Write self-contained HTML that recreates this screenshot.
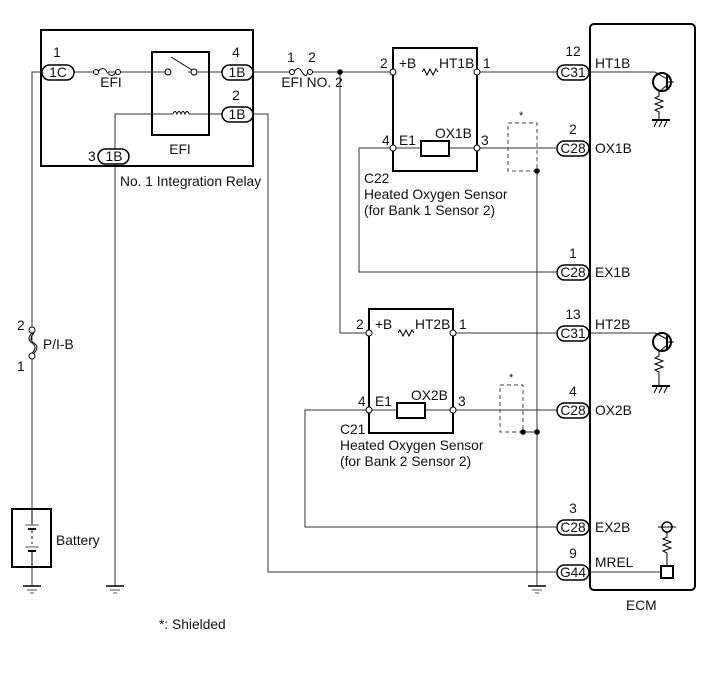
<!DOCTYPE html>
<html><head><meta charset="utf-8"><style>
body{margin:0;background:#fff}
svg{display:block;font-family:"Liberation Sans",Arial,sans-serif}
text{font-size:13.8px;fill:#111}
</style></head><body>
<svg width="713" height="681" viewBox="0 0 713 681" xmlns="http://www.w3.org/2000/svg">
<defs>
<g id="gnd"><line x1="-9" y1="0" x2="9" y2="0" stroke="#000" stroke-width="1.5"/><line x1="-5" y1="4" x2="5" y2="4" stroke="#555" stroke-width="1"/><line x1="-2" y1="7" x2="2" y2="7" stroke="#555" stroke-width="1"/></g>
</defs>
<g fill="none" stroke="#333" stroke-width="1">
<path d="M41 72 H32 V340 M32 356 V586"/>
<path d="M253 114 H268 V572 H556"/>
<path d="M152 114 H115 V586"/>
<path d="M74 72 H94 M108 72 H168 M188 72 H222"/>
<path d="M152 114 H173 M189 114 H222"/>
<path d="M253 72 H290 M312 72 H393"/>
<path d="M340 72 V333 H369"/>
<path d="M477 72 H556"/>
<path d="M393 148 H359 V272 H556"/>
<path d="M393 148 H421 M449 148 H556"/>
<path d="M453 333 H556"/>
<path d="M369 410 H305 V527 H556"/>
<path d="M369 410 H397 M425 410 H556"/>
<path d="M537 171 V586"/>
<path d="M523 432 H537"/>
<path d="M589 72 H655 M589 333 H655"/>
<path d="M589 572 H661"/>
</g>
<rect x="41" y="30" width="212" height="136" fill="none" stroke="#000" stroke-width="2"/>
<rect x="152" y="52" width="57" height="83" fill="none" stroke="#000" stroke-width="2"/>
<circle cx="168" cy="72" r="3" fill="#fff" stroke="#000"/>
<circle cx="194" cy="72" r="3" fill="#fff" stroke="#000"/>
<line x1="171" y1="57" x2="192" y2="70" stroke="#000"/>
<path d="M173 114 q2 -5 4 0 q2 -5 4 0 q2 -5 4 0 q2 -5 4 0" fill="none" stroke="#000"/>
<circle cx="96" cy="72" r="2.5" fill="#fff" stroke="#000"/>
<circle cx="118" cy="72" r="2.5" fill="#fff" stroke="#000"/>
<path d="M98 72 q5 -7 9 0 q5 7 9 0" fill="none" stroke="#000"/>
<circle cx="292" cy="72" r="2.5" fill="#fff" stroke="#000"/>
<circle cx="310" cy="72" r="2.5" fill="#fff" stroke="#000"/>
<path d="M294 72 q4 -7 8 0 q4 7 6 0" fill="none" stroke="#000"/>
<circle cx="340" cy="72" r="2.8" fill="#000"/>
<circle cx="32" cy="330" r="3" fill="#fff" stroke="#000"/>
<circle cx="32" cy="356" r="3" fill="#fff" stroke="#000"/>
<path d="M32 333 q-6 6 0 10 q6 4 0 10 M34 333 q-6 6 0 10 q6 4 0 10" fill="none" stroke="#000"/>
<rect x="12" y="509" width="39" height="58" fill="#fff" stroke="#000" stroke-width="2"/>
<g stroke="#000"><line x1="32" y1="509" x2="32" y2="525"/><line x1="25" y1="525" x2="39" y2="525" stroke="#555"/><line x1="28" y1="529" x2="36" y2="529" stroke-width="2"/><line x1="32" y1="530" x2="32" y2="544" stroke-dasharray="3 3"/><line x1="25" y1="547" x2="39" y2="547" stroke="#555"/><line x1="28" y1="551" x2="36" y2="551" stroke-width="2"/><line x1="32" y1="551" x2="32" y2="567"/></g>
<use href="#gnd" x="32" y="586"/><use href="#gnd" x="115" y="586"/><use href="#gnd" x="537" y="586"/>
<rect x="393" y="48" width="84" height="123" fill="none" stroke="#000" stroke-width="2"/>
<rect x="369" y="309" width="84" height="124" fill="none" stroke="#000" stroke-width="2"/>
<rect x="421" y="141" width="28" height="15" fill="#fff" stroke="#000" stroke-width="2"/>
<rect x="397" y="403" width="28" height="15" fill="#fff" stroke="#000" stroke-width="2"/>
<path d="M422 72 l2 -3 l3 6 l3 -6 l3 6 l3 -6 l2 3" fill="none" stroke="#000"/>
<path d="M398 333 l2 -3 l3 6 l3 -6 l3 6 l3 -6 l2 3" fill="none" stroke="#000"/>
<g fill="#fff" stroke="#000"><circle cx="393" cy="72" r="3"/><circle cx="477" cy="72" r="3"/><circle cx="393" cy="148" r="3"/><circle cx="477" cy="148" r="3"/><circle cx="369" cy="333" r="3"/><circle cx="453" cy="333" r="3"/><circle cx="369" cy="410" r="3"/><circle cx="453" cy="410" r="3"/></g>
<rect x="508" y="123" width="29" height="48" fill="none" stroke="#444" stroke-dasharray="4 3"/>
<rect x="500" y="385" width="23" height="47" fill="none" stroke="#444" stroke-dasharray="4 3"/>
<circle cx="537" cy="171" r="2.8"/><circle cx="523" cy="432" r="2.8"/><circle cx="537" cy="432" r="2.8"/>
<rect x="590" y="24" width="105" height="566" rx="4" fill="none" stroke="#000" stroke-width="2"/>
<g fill="none" stroke="#000">
<circle cx="662" cy="82" r="9" stroke-width="2"/><line x1="667" y1="75" x2="667" y2="89" stroke-width="2"/><line x1="667" y1="82" x2="674" y2="82"/><path d="M655 72 L667 79 M667 85 L659 92 V96 l-4 2 l8 3 l-8 3 l8 3 l-8 3 l4 2 V120"/><line x1="652" y1="120" x2="670" y2="120" stroke-width="2"/><path d="M654 127 l3 -6 M659 127 l3 -6 M664 127 l3 -6"/>
<circle cx="662" cy="342" r="9" stroke-width="2"/><line x1="667" y1="335" x2="667" y2="349" stroke-width="2"/><line x1="667" y1="342" x2="674" y2="342"/><path d="M655 333 L667 339 M667 345 L659 352 V356 l-4 2 l8 3 l-8 3 l8 3 l-8 3 l4 2 V386"/><line x1="652" y1="386" x2="670" y2="386" stroke-width="2"/><path d="M654 393 l3 -6 M659 393 l3 -6 M664 393 l3 -6"/>
<circle cx="667" cy="527" r="5" stroke-width="1.5"/><line x1="658" y1="527" x2="676" y2="527"/><path d="M667 532 V537 l-4 2 l8 3 l-8 3 l8 3 l-8 3 l4 2 V566"/><rect x="661" y="566" width="12" height="12" stroke-width="2"/>
</g>
<g fill="#fff" stroke="#000" stroke-width="1.5">
<rect x="42" y="65" width="32" height="15" rx="7.5"/>
<rect x="222" y="65" width="31" height="15" rx="7.5"/>
<rect x="222" y="107" width="31" height="15" rx="7.5"/>
<rect x="98" y="149" width="31" height="15" rx="7.5"/>
<rect x="557" y="65" width="32" height="15" rx="7.5"/>
<rect x="557" y="141" width="32" height="15" rx="7.5"/>
<rect x="557" y="265" width="32" height="15" rx="7.5"/>
<rect x="557" y="326" width="32" height="15" rx="7.5"/>
<rect x="557" y="403" width="32" height="15" rx="7.5"/>
<rect x="557" y="520" width="32" height="15" rx="7.5"/>
<rect x="557" y="565" width="32" height="15" rx="7.5"/>
</g>
<g text-anchor="middle">
<text x="58" y="77">1C</text><text x="237" y="77">1B</text><text x="237" y="119">1B</text><text x="114" y="161">1B</text>
<text x="573" y="77">C31</text><text x="573" y="153">C28</text><text x="573" y="277">C28</text><text x="573" y="338">C31</text><text x="573" y="415">C28</text><text x="573" y="532">C28</text><text x="573" y="577">G44</text>
<text x="57" y="57">1</text><text x="236" y="57">4</text><text x="236" y="100">2</text>
<text x="573" y="56">12</text><text x="573" y="134">2</text><text x="573" y="258">1</text><text x="573" y="319">13</text><text x="573" y="396">4</text><text x="573" y="513">3</text><text x="573" y="558">9</text>
<text x="111" y="87">EFI</text><text x="180" y="154">EFI</text><text x="312" y="87">EFI NO. 2</text>
<text x="291" y="62">1</text><text x="312" y="62">2</text>
</g>
<text x="88" y="161">3</text>
<text x="120" y="186">No. 1 Integration Relay</text>
<text x="17" y="330">2</text><text x="17" y="371">1</text><text x="43" y="349">P/I-B</text>
<text x="56" y="545">Battery</text>
<text x="380" y="68">2</text><text x="399" y="68">+B</text><text x="439" y="68">HT1B</text><text x="483" y="68">1</text>
<text x="382" y="145">4</text><text x="399" y="145">E1</text><text x="435" y="138">OX1B</text><text x="481" y="145">3</text>
<text x="364" y="183">C22</text><text x="364" y="199">Heated Oxygen Sensor</text><text x="364" y="215">(for Bank 1 Sensor 2)</text>
<text x="356" y="329">2</text><text x="375" y="329">+B</text><text x="415" y="329">HT2B</text><text x="459" y="329">1</text>
<text x="358" y="406">4</text><text x="375" y="406">E1</text><text x="411" y="400">OX2B</text><text x="458" y="406">3</text>
<text x="340" y="434">C21</text><text x="340" y="450">Heated Oxygen Sensor</text><text x="340" y="466">(for Bank 2 Sensor 2)</text>
<text x="519" y="119" style="font-size:11px">*</text><text x="509" y="381" style="font-size:11px">*</text>
<text x="595" y="68">HT1B</text><text x="595" y="153">OX1B</text><text x="595" y="277">EX1B</text><text x="595" y="329">HT2B</text><text x="595" y="415">OX2B</text><text x="595" y="532">EX2B</text><text x="595" y="567">MREL</text>
<text x="626" y="610">ECM</text>
<text x="159" y="629">*: Shielded</text>
</svg>
</body></html>
